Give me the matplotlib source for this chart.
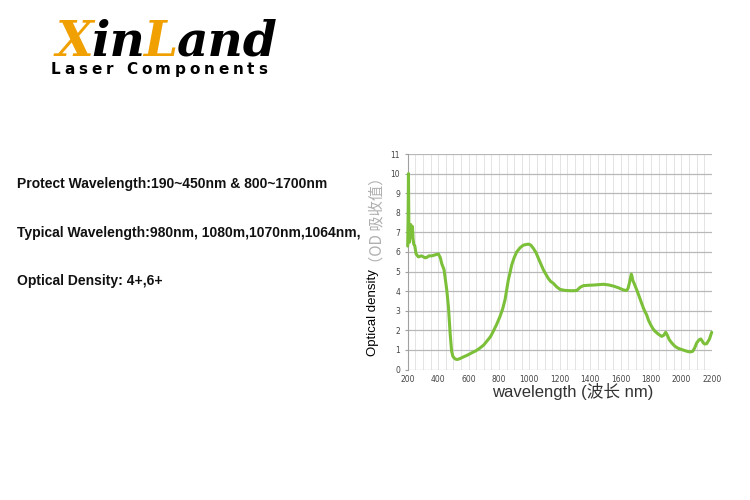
import matplotlib
matplotlib.use("Agg")
import matplotlib.pyplot as plt
import matplotlib.transforms as mtransforms
import numpy as np

# absorption curve
wavelength = [200, 203, 205, 208, 212, 217, 220, 224, 228, 231, 235, 240, 247, 255, 270,
              290, 303, 315, 325, 340, 358, 380, 402, 415, 424, 439, 457, 468, 479, 489,
              497, 505, 515, 527, 545, 566, 595, 621, 650, 676, 700, 720, 745, 763, 785,
              807, 825, 840, 852, 862, 875, 884, 900, 917, 940, 961, 980, 994, 1010, 1027,
              1045, 1060, 1078, 1093, 1110, 1125, 1140, 1158, 1180, 1202, 1225, 1246, 1280, 1312,
              1335, 1356, 1390, 1422, 1455, 1487, 1520, 1553, 1590, 1619, 1641, 1650, 1658,
              1665, 1671, 1676, 1680, 1692, 1707, 1722, 1739, 1755, 1772, 1785, 1799, 1812,
              1827, 1850, 1871, 1885, 1897, 1908, 1921, 1940, 1959, 1980, 2003, 2025, 2047,
              2062, 2075, 2088, 2101, 2115, 2128, 2138, 2145, 2155, 2167, 2185, 2200]
density = [6.3, 8.0, 10.0, 7.0, 6.5, 6.9, 7.4, 6.9, 7.1, 7.3, 6.7, 6.4, 6.3, 5.9, 5.75,
           5.8, 5.75, 5.7, 5.72, 5.8, 5.8, 5.85, 5.9, 5.7, 5.4, 5.1, 4.06, 3.2, 1.86, 0.93,
           0.68, 0.59, 0.53, 0.51, 0.56, 0.64, 0.74, 0.85, 0.96, 1.1, 1.25, 1.44, 1.68, 1.95, 2.3,
           2.7, 3.1, 3.55, 4.1, 4.57, 5.0, 5.33, 5.7, 6.0, 6.22, 6.35, 6.38, 6.4, 6.35, 6.18,
           5.95, 5.67, 5.35, 5.08, 4.85, 4.65, 4.5, 4.4, 4.22, 4.09, 4.05, 4.03, 4.02, 4.03,
           4.2, 4.28, 4.3, 4.31, 4.33, 4.35, 4.32, 4.26, 4.16, 4.06, 4.03, 4.15, 4.4,
           4.65, 4.87, 4.75, 4.57, 4.35, 4.06, 3.75, 3.38, 3.05, 2.79, 2.5, 2.28, 2.1,
           1.95, 1.8, 1.69, 1.75, 1.9, 1.75, 1.52, 1.33, 1.18, 1.08, 1.02, 0.96, 0.91,
           0.9, 0.93, 1.1, 1.35, 1.5, 1.56, 1.45, 1.35, 1.3, 1.32, 1.55, 1.9]

protect_text = "Protect Wavelength:190~450nm & 800~1700nm"
typical_text = "Typical Wavelength:980nm, 1080m,1070nm,1064nm,"
od_text = "Optical Density: 4+,6+"

ORANGE = "#f0a000"
GREEN = "#7cc03a"

fig = plt.figure(figsize=(7.5, 5), dpi=100)
fig.patch.set_facecolor("white")
px = mtransforms.IdentityTransform()
renderer = fig.canvas.get_renderer()

# logo: XinLand with coloured capitals
x = 56
for s, c in [("X", ORANGE), ("in", "black"), ("L", ORANGE), ("and", "black")]:
    t = fig.text(x, 500 - 56, s, transform=px, color=c, fontsize=35,
                 family="DejaVu Serif", weight="bold", style="italic", va="baseline")
    x = t.get_window_extent(renderer).x1 - 2

# "Laser Components" with wide letter spacing
sub = "Laser Components"
chars = []
natural = 0
for ch in sub:
    if ch == " ":
        chars.append(None)
        continue
    t = fig.text(0, 0, ch, transform=px, fontsize=11, family="DejaVu Sans",
                 weight="bold", va="baseline")
    w = t.get_window_extent(renderer).width
    chars.append((t, w))
    natural += w
space_w = 6
gaps = len(sub) - 1
track = (216 - natural - space_w) / gaps
x = 51
for item in chars:
    if item is None:
        x += space_w + track
        continue
    t, w = item
    t.set_position((x, 500 - 74))
    x += w + track

# spec lines
for txt, base in [(protect_text, 188), (typical_text, 237), (od_text, 285)]:
    fig.text(17 / 750, 1 - base / 500, txt, fontsize=10, family="Liberation Sans",
             weight="bold", color="#111111", va="baseline")

# chart
ax = fig.add_axes([407.7 / 750, 1 - 369.5 / 500, 304 / 750, 215.5 / 500])
ax.plot(wavelength, density, color=GREEN, lw=2.2, solid_joinstyle="round",
        solid_capstyle="round", zorder=3, clip_on=False)
ax.set_xlim(200, 2200)
ax.set_ylim(0, 11)
ax.set_xticks(np.arange(200, 2201, 200))
ax.set_xticks(np.arange(200, 2201, 50), minor=True)
ax.set_yticks(np.arange(0, 12, 1))
ax.grid(axis="x", which="both", color="#e4e4e4", lw=0.7, zorder=0)
ax.grid(axis="y", which="major", color="#b8b8b8", lw=0.9, zorder=1)
for side in ["top", "right", "bottom"]:
    ax.spines[side].set_visible(False)
ax.spines["left"].set_color("#a0a0a0")
ax.spines["left"].set_linewidth(0.8)
ax.tick_params(axis="x", which="both", length=0, pad=4, labelsize=5.5, labelcolor="#444444")
ax.tick_params(axis="y", length=2.5, color="#a0a0a0", pad=3, labelsize=5.5, labelcolor="#444444")

fig.text(573 / 750, 1 - 392 / 500, "wavelength (波长 nm)", fontsize=12,
         family=["Liberation Sans", "Noto Sans CJK SC"], color="#333333",
         ha="center", va="center")
fig.text(373 / 750, 1 - 313 / 500, "Optical density", fontsize=9.5, rotation=90,
         family="Liberation Sans", color="black", ha="center", va="center")
fig.text(377 / 750, 1 - 220 / 500, "（OD 吸收值）", fontsize=11, rotation=90,
         family=["Noto Sans CJK SC", "DejaVu Sans"], color="#b0b0b0",
         ha="center", va="center")

fig.savefig("out.png", dpi=100)
